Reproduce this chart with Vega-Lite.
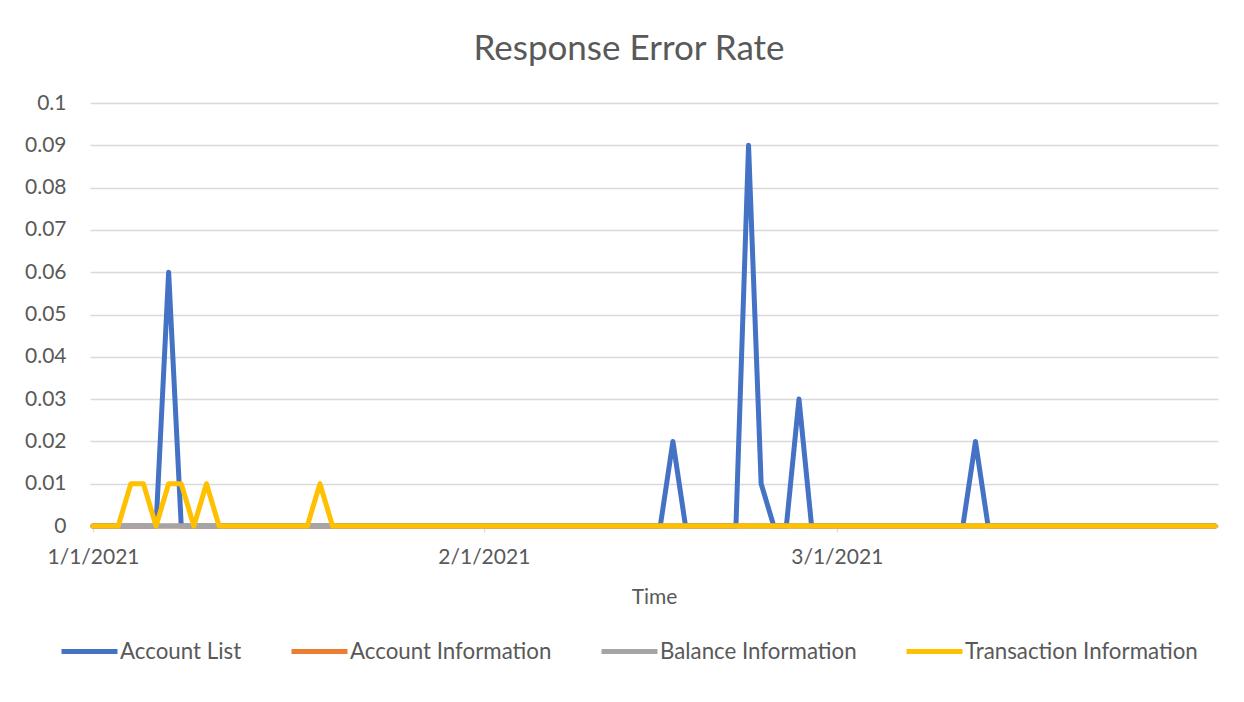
{
  "$schema": "https://vega.github.io/schema/vega-lite/v6.json",
  "width": 1128,
  "height": 423,
  "autosize": {"type": "none"},
  "padding": {"left": 90, "top": 103, "right": 26, "bottom": 176},
  "background": "white",
  "title": {"text": "Response Error Rate", "font": "Lato", "fontSize": 35, "fontWeight": "normal", "color": "#595959", "anchor": "middle", "frame": "group", "baseline": "alphabetic", "offset": -3, "dx": -25},
  "data": {"values": [
    {"date": "2021/01/01", "Account List": 0, "Account Information": 0, "Balance Information": 0, "Transaction Information": 0},
    {"date": "2021/01/02", "Account List": 0, "Account Information": 0, "Balance Information": 0, "Transaction Information": 0},
    {"date": "2021/01/03", "Account List": 0, "Account Information": 0, "Balance Information": 0, "Transaction Information": 0},
    {"date": "2021/01/04", "Account List": 0, "Account Information": 0, "Balance Information": 0, "Transaction Information": 0.01},
    {"date": "2021/01/05", "Account List": 0, "Account Information": 0, "Balance Information": 0, "Transaction Information": 0.01},
    {"date": "2021/01/06", "Account List": 0, "Account Information": 0, "Balance Information": 0, "Transaction Information": 0},
    {"date": "2021/01/07", "Account List": 0.06, "Account Information": 0, "Balance Information": 0, "Transaction Information": 0.01},
    {"date": "2021/01/08", "Account List": 0, "Account Information": 0, "Balance Information": 0, "Transaction Information": 0.01},
    {"date": "2021/01/09", "Account List": 0, "Account Information": 0, "Balance Information": 0, "Transaction Information": 0},
    {"date": "2021/01/10", "Account List": 0, "Account Information": 0, "Balance Information": 0, "Transaction Information": 0.01},
    {"date": "2021/01/11", "Account List": 0, "Account Information": 0, "Balance Information": 0, "Transaction Information": 0},
    {"date": "2021/01/12", "Account List": 0, "Account Information": 0, "Balance Information": 0, "Transaction Information": 0},
    {"date": "2021/01/13", "Account List": 0, "Account Information": 0, "Balance Information": 0, "Transaction Information": 0},
    {"date": "2021/01/14", "Account List": 0, "Account Information": 0, "Balance Information": 0, "Transaction Information": 0},
    {"date": "2021/01/15", "Account List": 0, "Account Information": 0, "Balance Information": 0, "Transaction Information": 0},
    {"date": "2021/01/16", "Account List": 0, "Account Information": 0, "Balance Information": 0, "Transaction Information": 0},
    {"date": "2021/01/17", "Account List": 0, "Account Information": 0, "Balance Information": 0, "Transaction Information": 0},
    {"date": "2021/01/18", "Account List": 0, "Account Information": 0, "Balance Information": 0, "Transaction Information": 0},
    {"date": "2021/01/19", "Account List": 0, "Account Information": 0, "Balance Information": 0, "Transaction Information": 0.01},
    {"date": "2021/01/20", "Account List": 0, "Account Information": 0, "Balance Information": 0, "Transaction Information": 0},
    {"date": "2021/01/21", "Account List": 0, "Account Information": 0, "Balance Information": 0, "Transaction Information": 0},
    {"date": "2021/01/22", "Account List": 0, "Account Information": 0, "Balance Information": 0, "Transaction Information": 0},
    {"date": "2021/01/23", "Account List": 0, "Account Information": 0, "Balance Information": 0, "Transaction Information": 0},
    {"date": "2021/01/24", "Account List": 0, "Account Information": 0, "Balance Information": 0, "Transaction Information": 0},
    {"date": "2021/01/25", "Account List": 0, "Account Information": 0, "Balance Information": 0, "Transaction Information": 0},
    {"date": "2021/01/26", "Account List": 0, "Account Information": 0, "Balance Information": 0, "Transaction Information": 0},
    {"date": "2021/01/27", "Account List": 0, "Account Information": 0, "Balance Information": 0, "Transaction Information": 0},
    {"date": "2021/01/28", "Account List": 0, "Account Information": 0, "Balance Information": 0, "Transaction Information": 0},
    {"date": "2021/01/29", "Account List": 0, "Account Information": 0, "Balance Information": 0, "Transaction Information": 0},
    {"date": "2021/01/30", "Account List": 0, "Account Information": 0, "Balance Information": 0, "Transaction Information": 0},
    {"date": "2021/01/31", "Account List": 0, "Account Information": 0, "Balance Information": 0, "Transaction Information": 0},
    {"date": "2021/02/01", "Account List": 0, "Account Information": 0, "Balance Information": 0, "Transaction Information": 0},
    {"date": "2021/02/02", "Account List": 0, "Account Information": 0, "Balance Information": 0, "Transaction Information": 0},
    {"date": "2021/02/03", "Account List": 0, "Account Information": 0, "Balance Information": 0, "Transaction Information": 0},
    {"date": "2021/02/04", "Account List": 0, "Account Information": 0, "Balance Information": 0, "Transaction Information": 0},
    {"date": "2021/02/05", "Account List": 0, "Account Information": 0, "Balance Information": 0, "Transaction Information": 0},
    {"date": "2021/02/06", "Account List": 0, "Account Information": 0, "Balance Information": 0, "Transaction Information": 0},
    {"date": "2021/02/07", "Account List": 0, "Account Information": 0, "Balance Information": 0, "Transaction Information": 0},
    {"date": "2021/02/08", "Account List": 0, "Account Information": 0, "Balance Information": 0, "Transaction Information": 0},
    {"date": "2021/02/09", "Account List": 0, "Account Information": 0, "Balance Information": 0, "Transaction Information": 0},
    {"date": "2021/02/10", "Account List": 0, "Account Information": 0, "Balance Information": 0, "Transaction Information": 0},
    {"date": "2021/02/11", "Account List": 0, "Account Information": 0, "Balance Information": 0, "Transaction Information": 0},
    {"date": "2021/02/12", "Account List": 0, "Account Information": 0, "Balance Information": 0, "Transaction Information": 0},
    {"date": "2021/02/13", "Account List": 0, "Account Information": 0, "Balance Information": 0, "Transaction Information": 0},
    {"date": "2021/02/14", "Account List": 0, "Account Information": 0, "Balance Information": 0, "Transaction Information": 0},
    {"date": "2021/02/15", "Account List": 0, "Account Information": 0, "Balance Information": 0, "Transaction Information": 0},
    {"date": "2021/02/16", "Account List": 0.02, "Account Information": 0, "Balance Information": 0, "Transaction Information": 0},
    {"date": "2021/02/17", "Account List": 0, "Account Information": 0, "Balance Information": 0, "Transaction Information": 0},
    {"date": "2021/02/18", "Account List": 0, "Account Information": 0, "Balance Information": 0, "Transaction Information": 0},
    {"date": "2021/02/19", "Account List": 0, "Account Information": 0, "Balance Information": 0, "Transaction Information": 0},
    {"date": "2021/02/20", "Account List": 0, "Account Information": 0, "Balance Information": 0, "Transaction Information": 0},
    {"date": "2021/02/21", "Account List": 0, "Account Information": 0, "Balance Information": 0, "Transaction Information": 0},
    {"date": "2021/02/22", "Account List": 0.09, "Account Information": 0, "Balance Information": 0, "Transaction Information": 0},
    {"date": "2021/02/23", "Account List": 0.01, "Account Information": 0, "Balance Information": 0, "Transaction Information": 0},
    {"date": "2021/02/24", "Account List": 0, "Account Information": 0, "Balance Information": 0, "Transaction Information": 0},
    {"date": "2021/02/25", "Account List": 0, "Account Information": 0, "Balance Information": 0, "Transaction Information": 0},
    {"date": "2021/02/26", "Account List": 0.03, "Account Information": 0, "Balance Information": 0, "Transaction Information": 0},
    {"date": "2021/02/27", "Account List": 0, "Account Information": 0, "Balance Information": 0, "Transaction Information": 0},
    {"date": "2021/02/28", "Account List": 0, "Account Information": 0, "Balance Information": 0, "Transaction Information": 0},
    {"date": "2021/03/01", "Account List": 0, "Account Information": 0, "Balance Information": 0, "Transaction Information": 0},
    {"date": "2021/03/02", "Account List": 0, "Account Information": 0, "Balance Information": 0, "Transaction Information": 0},
    {"date": "2021/03/03", "Account List": 0, "Account Information": 0, "Balance Information": 0, "Transaction Information": 0},
    {"date": "2021/03/04", "Account List": 0, "Account Information": 0, "Balance Information": 0, "Transaction Information": 0},
    {"date": "2021/03/05", "Account List": 0, "Account Information": 0, "Balance Information": 0, "Transaction Information": 0},
    {"date": "2021/03/06", "Account List": 0, "Account Information": 0, "Balance Information": 0, "Transaction Information": 0},
    {"date": "2021/03/07", "Account List": 0, "Account Information": 0, "Balance Information": 0, "Transaction Information": 0},
    {"date": "2021/03/08", "Account List": 0, "Account Information": 0, "Balance Information": 0, "Transaction Information": 0},
    {"date": "2021/03/09", "Account List": 0, "Account Information": 0, "Balance Information": 0, "Transaction Information": 0},
    {"date": "2021/03/10", "Account List": 0, "Account Information": 0, "Balance Information": 0, "Transaction Information": 0},
    {"date": "2021/03/11", "Account List": 0, "Account Information": 0, "Balance Information": 0, "Transaction Information": 0},
    {"date": "2021/03/12", "Account List": 0.02, "Account Information": 0, "Balance Information": 0, "Transaction Information": 0},
    {"date": "2021/03/13", "Account List": 0, "Account Information": 0, "Balance Information": 0, "Transaction Information": 0},
    {"date": "2021/03/14", "Account List": 0, "Account Information": 0, "Balance Information": 0, "Transaction Information": 0},
    {"date": "2021/03/15", "Account List": 0, "Account Information": 0, "Balance Information": 0, "Transaction Information": 0},
    {"date": "2021/03/16", "Account List": 0, "Account Information": 0, "Balance Information": 0, "Transaction Information": 0},
    {"date": "2021/03/17", "Account List": 0, "Account Information": 0, "Balance Information": 0, "Transaction Information": 0},
    {"date": "2021/03/18", "Account List": 0, "Account Information": 0, "Balance Information": 0, "Transaction Information": 0},
    {"date": "2021/03/19", "Account List": 0, "Account Information": 0, "Balance Information": 0, "Transaction Information": 0},
    {"date": "2021/03/20", "Account List": 0, "Account Information": 0, "Balance Information": 0, "Transaction Information": 0},
    {"date": "2021/03/21", "Account List": 0, "Account Information": 0, "Balance Information": 0, "Transaction Information": 0},
    {"date": "2021/03/22", "Account List": 0, "Account Information": 0, "Balance Information": 0, "Transaction Information": 0},
    {"date": "2021/03/23", "Account List": 0, "Account Information": 0, "Balance Information": 0, "Transaction Information": 0},
    {"date": "2021/03/24", "Account List": 0, "Account Information": 0, "Balance Information": 0, "Transaction Information": 0},
    {"date": "2021/03/25", "Account List": 0, "Account Information": 0, "Balance Information": 0, "Transaction Information": 0},
    {"date": "2021/03/26", "Account List": 0, "Account Information": 0, "Balance Information": 0, "Transaction Information": 0},
    {"date": "2021/03/27", "Account List": 0, "Account Information": 0, "Balance Information": 0, "Transaction Information": 0},
    {"date": "2021/03/28", "Account List": 0, "Account Information": 0, "Balance Information": 0, "Transaction Information": 0},
    {"date": "2021/03/29", "Account List": 0, "Account Information": 0, "Balance Information": 0, "Transaction Information": 0},
    {"date": "2021/03/30", "Account List": 0, "Account Information": 0, "Balance Information": 0, "Transaction Information": 0},
    {"date": "2021/03/31", "Account List": 0, "Account Information": 0, "Balance Information": 0, "Transaction Information": 0}
  ]},
  "transform": [
    {"fold": ["Account List", "Account Information", "Balance Information", "Transaction Information"], "as": ["series", "rate"]}
  ],
  "mark": {"type": "line", "strokeWidth": 5, "strokeCap": "round", "strokeJoin": "round"},
  "encoding": {
    "x": {
      "field": "date", "type": "temporal",
      "scale": {"padding": 3},
      "axis": {
        "format": "%-m/%-d/%Y",
        "tickCount": {"interval": "month", "step": 1},
        "grid": false,
        "domainColor": "#d9d9d9", "domainWidth": 1.3,
        "tickColor": "#d9d9d9", "tickSize": 6, "tickWidth": 1.3,
        "labelFont": "Lato", "labelFontSize": 21, "labelColor": "#595959", "labelPadding": 14,
        "labelFlush": false, "labelOverlap": false,
        "title": "Time", "titleFont": "Lato", "titleFontSize": 21, "titleFontWeight": "normal", "titleColor": "#595959", "titlePadding": 19
      }
    },
    "y": {
      "field": "rate", "type": "quantitative",
      "scale": {"domain": [0, 0.1], "nice": false},
      "axis": {
        "values": [0, 0.01, 0.02, 0.03, 0.04, 0.05, 0.06, 0.07, 0.08, 0.09, 0.1],
        "format": "~g",
        "grid": true, "gridColor": "#d9d9d9", "gridWidth": 1.3,
        "domain": false, "ticks": false,
        "labelFont": "Lato", "labelFontSize": 21, "labelColor": "#595959", "labelPadding": 24,
        "title": null
      }
    },
    "color": {
      "field": "series", "type": "nominal",
      "scale": {
        "domain": ["Account List", "Account Information", "Balance Information", "Transaction Information"],
        "range": ["#4472C4", "#ED7D31", "#A5A5A5", "#FFC000"]
      },
      "legend": {
        "title": null, "orient": "none", "direction": "horizontal",
        "legendX": -31, "legendY": 518,
        "symbolType": "stroke", "symbolSize": 3136, "symbolStrokeWidth": 5,
        "labelFont": "Lato", "labelFontSize": 22.3, "labelColor": "#595959", "labelOffset": 0,
        "columnPadding": 39, "labelLimit": 400
      }
    }
  },
  "config": {"view": {"stroke": null}}
}
